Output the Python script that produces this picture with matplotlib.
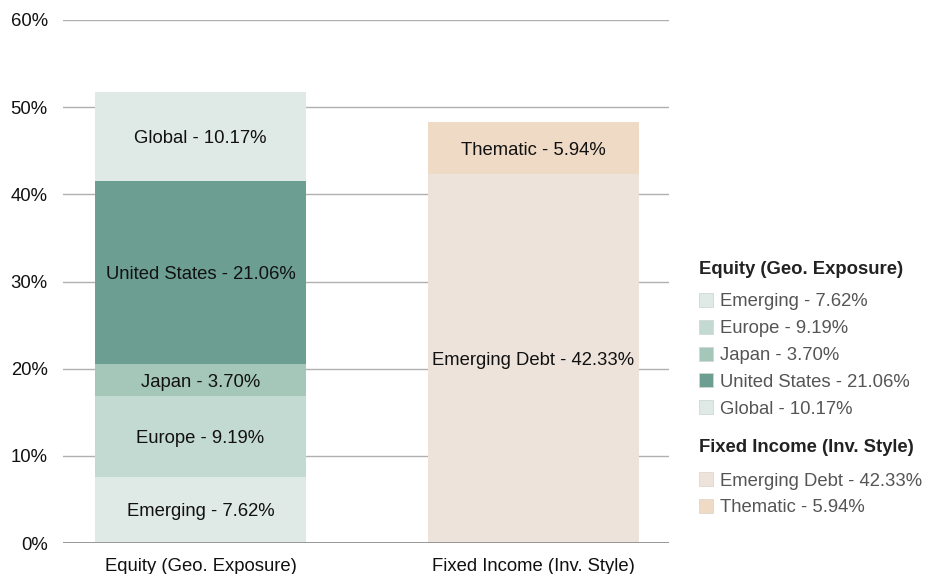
import matplotlib.pyplot as plt
from matplotlib.patches import Rectangle

plt.rcParams['font.family'] = ['Liberation Sans', 'DejaVu Sans']

categories = ['Equity (Geo. Exposure)', 'Fixed Income (Inv. Style)']

equity_names = ['Emerging', 'Europe', 'Japan', 'United States', 'Global']
equity_vals = [7.62, 9.19, 3.70, 21.06, 10.17]
equity_colors = ['#dfe9e5', '#c3dad2', '#a5c7ba', '#6c9f91', '#dfe9e5']

fixed_names = ['Emerging Debt', 'Thematic']
fixed_vals = [42.33, 5.94]
fixed_colors = ['#ede3db', '#efdac6']

yticks = [0, 10, 20, 30, 40, 50, 60]

fig = plt.figure(figsize=(9.33, 5.74), dpi=100)
W, H = 933, 574
ax = fig.add_axes([63 / W, 1 - 543 / H, (669 - 63) / W, (543 - 20) / H])

width = 0.634
fs = 13.3


def stack(x, names, vals, colors):
    bottom = 0
    for n, v, c in zip(names, vals, colors):
        ax.bar(x, v, width=width, bottom=bottom, color=c, zorder=2)
        ax.text(x, bottom + v / 2, f'{n} - {v:.2f}%', ha='center', va='center_baseline',
                fontsize=fs, color='#111111', zorder=3)
        bottom += v


stack(0, equity_names, equity_vals, equity_colors)
stack(1, fixed_names, fixed_vals, fixed_colors)

ax.set_xlim(-0.413, 1.407)
ax.set_ylim(0, 60)
ax.set_yticks(yticks)
ax.set_yticklabels([f'{t}%' for t in yticks], fontsize=fs, color='#111111')
ax.set_xticks([0, 1])
ax.set_xticklabels(categories, fontsize=fs, color='#111111')
ax.tick_params(length=0)
ax.tick_params(axis='y', pad=11)
ax.tick_params(axis='x', pad=11)
for s in ax.spines.values():
    s.set_visible(False)
ax.grid(axis='y', color='#b0b0b0', linewidth=1, zorder=1)
ax.axhline(0, color='#8a8a8a', linewidth=1.2, zorder=4)

# legend drawn by hand
def fy(py):
    return 1 - py / H


fig.text(699 / W, fy(268), 'Equity (Geo. Exposure)', fontsize=fs, fontweight='bold',
         color='#222222', va='center_baseline')
for i, (n, v, c) in enumerate(zip(equity_names, equity_vals, equity_colors)):
    y = 300 + i * 26.8
    fig.patches.append(Rectangle((699 / W, fy(y + 7)), 14 / W, 14 / H, transform=fig.transFigure,
                                 facecolor=c, edgecolor='#d0d8d4', linewidth=0.6))
    fig.text(720 / W, fy(y), f'{n} - {v:.2f}%', fontsize=fs, color='#555555',
             va='center_baseline')

fig.text(699 / W, fy(446), 'Fixed Income (Inv. Style)', fontsize=fs, fontweight='bold',
         color='#222222', va='center_baseline')
for i, (n, v, c) in enumerate(zip(fixed_names, fixed_vals, fixed_colors)):
    y = 479 + i * 26.8
    fig.patches.append(Rectangle((699 / W, fy(y + 7)), 14 / W, 14 / H, transform=fig.transFigure,
                                 facecolor=c, edgecolor='#e0d6cc', linewidth=0.6))
    fig.text(720 / W, fy(y), f'{n} - {v:.2f}%', fontsize=fs, color='#555555',
             va='center_baseline')

fig.savefig('out.png', dpi=100)
